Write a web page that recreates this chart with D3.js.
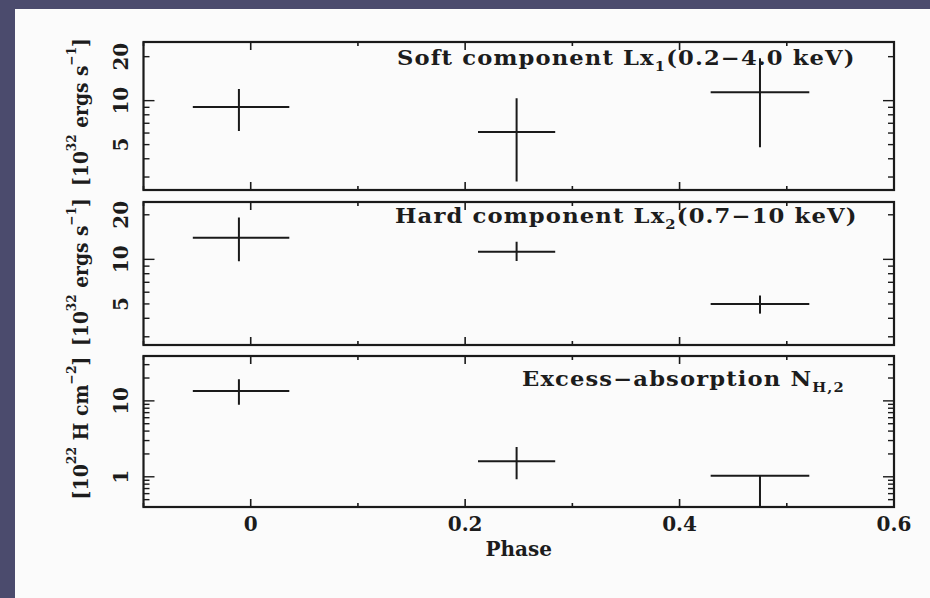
<!DOCTYPE html>
<html>
<head>
<meta charset="utf-8">
<script src="https://cdn.jsdelivr.net/npm/d3@7"></script>
<style>
  html, body { margin: 0; padding: 0; background: #4b4b6d; }
  svg { display: block; }
  text { font-family: "DejaVu Serif", serif; font-weight: bold; fill: #1c1c1c; }
</style>
</head>
<body>
<div id="chart"></div>
<script>
/**
 * DATA
 * */
const phase   = [-0.011, 0.248, 0.475];
const phaseLo = [-0.054, 0.212, 0.429];
const phaseHi = [0.036, 0.284, 0.521];

const softLx = [9.05, 6.1, 11.4];
const softLo = [6.2, 2.8, 4.8];
const softHi = [12.0, 10.4, 19.5];

const hardLx = [14.0, 11.25, 5.0];
const hardLo = [9.7, 9.75, 4.3];
const hardHi = [19.2, 13.15, 5.7];

const nH   = [13.5, 1.6, 1.03];
const nHLo = [8.9, 0.93, 0.3];
const nHHi = [19.3, 2.46, 1.03];

const xTicks = [-0.1, 0, 0.1, 0.2, 0.3, 0.4, 0.5, 0.6];
const xTickLabels = [0, 0.2, 0.4, 0.6];
const softTickLabels = [5, 10, 20];
const hardTickLabels = [5, 10, 20];
const nhTickLabels = [1, 10];

/**
 * CONSTANTS
 * */
const width = 930, height = 598;
const left = 143.5, right = 894;
const ink = "#1a1a1a";

const svg = d3.select("#chart").append("svg")
  .attr("width", width)
  .attr("height", height);

svg.append("rect")
  .attr("x", 15).attr("y", 9)
  .attr("width", width - 15).attr("height", height - 9)
  .attr("fill", "#fbfbfb");

const x = d3.scaleLinear().domain([-0.1, 0.6]).range([left, right]);

const panels = [
  { top: 42, bottom: 190, domain: [2.445, 25.2], val: softLx, lo: softLo, hi: softHi,
    labels: softTickLabels, title: ["Soft component Lx", "1", "(0.2\u22124.0 keV)"],
    titleX: 397, titleY: 65, titleW: 459,
    ylab: ["[10", "32", " ergs s", "\u22121", "]"], ylabC: 112, ylabW: 148 },
  { top: 202, bottom: 345, domain: [2.64, 24.4], val: hardLx, lo: hardLo, hi: hardHi,
    labels: hardTickLabels, title: ["Hard component Lx", "2", "(0.7\u221210 keV)"],
    titleX: 395, titleY: 223, titleW: 463,
    ylab: ["[10", "32", " ergs s", "\u22121", "]"], ylabC: 272, ylabW: 148 },
  { top: 356, bottom: 507, domain: [0.40, 39], val: nH, lo: nHLo, hi: nHHi,
    labels: nhTickLabels, title: ["Excess\u2212absorption N", "H,2", ""],
    titleX: 522, titleY: 386, titleW: 323,
    ylab: ["[10", "22", " H cm", "\u22122", "]"], ylabC: 428, ylabW: 143 }
];

// squeeze / stretch a text node along its own direction to a given length
function fitLength(sel, target, base) {
  const w = sel.node().getBBox().width;
  sel.attr("transform", `${base} scale(${target / w},1)`);
}

panels.forEach((p, i) => {
  const y = d3.scaleLog().domain(p.domain).range([p.bottom, p.top]);
  const g = svg.append("g");

  const clipId = "clip" + i;
  svg.append("clipPath").attr("id", clipId)
    .append("rect")
    .attr("x", left).attr("y", p.top)
    .attr("width", right - left).attr("height", p.bottom - p.top);

  // x ticks on top and bottom edges, pointing inward
  xTicks.forEach(t => {
    const major = Math.abs(Math.round(t * 10) % 2) === 0;
    const len = major ? 8 : 4;
    g.append("line")
      .attr("x1", x(t)).attr("x2", x(t))
      .attr("y1", p.bottom).attr("y2", p.bottom - len)
      .attr("stroke", ink).attr("stroke-width", 1.6);
    g.append("line")
      .attr("x1", x(t)).attr("x2", x(t))
      .attr("y1", p.top).attr("y2", p.top + len)
      .attr("stroke", ink).attr("stroke-width", 1.6);
  });

  // log y ticks on both sides
  y.ticks().forEach(t => {
    const major = Math.abs(Math.log10(t) - Math.round(Math.log10(t))) < 1e-6;
    const len = major ? 11 : 6;
    g.append("line")
      .attr("x1", left).attr("x2", left + len)
      .attr("y1", y(t)).attr("y2", y(t))
      .attr("stroke", ink).attr("stroke-width", 1.4);
    g.append("line")
      .attr("x1", right).attr("x2", right - len)
      .attr("y1", y(t)).attr("y2", y(t))
      .attr("stroke", ink).attr("stroke-width", 1.4);
  });

  // y tick labels, rotated
  p.labels.forEach(t => {
    g.append("text")
      .attr("transform", `translate(128,${y(t)}) rotate(-90)`)
      .attr("text-anchor", "middle")
      .attr("font-size", 20)
      .text(t);
  });

  // frame
  g.append("rect")
    .attr("x", left).attr("y", p.top)
    .attr("width", right - left).attr("height", p.bottom - p.top)
    .attr("fill", "none")
    .attr("stroke", ink).attr("stroke-width", 2.2);

  // error crosses
  const marks = g.append("g").attr("clip-path", `url(#${clipId})`);
  phase.forEach((ph, j) => {
    marks.append("line")
      .attr("x1", x(phaseLo[j])).attr("x2", x(phaseHi[j]))
      .attr("y1", y(p.val[j])).attr("y2", y(p.val[j]))
      .attr("stroke", ink).attr("stroke-width", 2);
    marks.append("line")
      .attr("x1", x(ph)).attr("x2", x(ph))
      .attr("y1", y(p.lo[j])).attr("y2", y(p.hi[j]))
      .attr("stroke", ink).attr("stroke-width", 2);
  });

  // panel title
  const tt = g.append("text")
    .attr("x", 0).attr("y", 0)
    .attr("font-size", 20)
    .attr("letter-spacing", 1);
  tt.append("tspan").text(p.title[0]);
  tt.append("tspan").attr("dy", 6).attr("font-size", 13).text(p.title[1]);
  if (p.title[2]) tt.append("tspan").attr("dy", -6).text(p.title[2]);
  fitLength(tt, p.titleW, `translate(${p.titleX},${p.titleY})`);

  // y axis label, rotated
  const yl = g.append("text")
    .attr("x", 0).attr("y", 0)
    .attr("text-anchor", "middle")
    .attr("font-size", 20);
  yl.append("tspan").text(p.ylab[0]);
  yl.append("tspan").attr("dy", -12).attr("font-size", 13).text(p.ylab[1]);
  yl.append("tspan").attr("dy", 12).text(p.ylab[2]);
  yl.append("tspan").attr("dy", -12).attr("font-size", 13).text(p.ylab[3]);
  yl.append("tspan").attr("dy", 12).text(p.ylab[4]);
  fitLength(yl, p.ylabW, `translate(88,${p.ylabC}) rotate(-90)`);

  // x tick labels on the bottom panel only
  if (i === panels.length - 1) {
    xTickLabels.forEach(t => {
      g.append("text")
        .attr("x", x(t)).attr("y", 531)
        .attr("text-anchor", "middle")
        .attr("font-size", 20)
        .text(t);
    });
    g.append("text")
      .attr("x", (left + right) / 2).attr("y", 556)
      .attr("text-anchor", "middle")
      .attr("font-size", 20)
      .text("Phase");
  }
});
</script>
</body>
</html>
